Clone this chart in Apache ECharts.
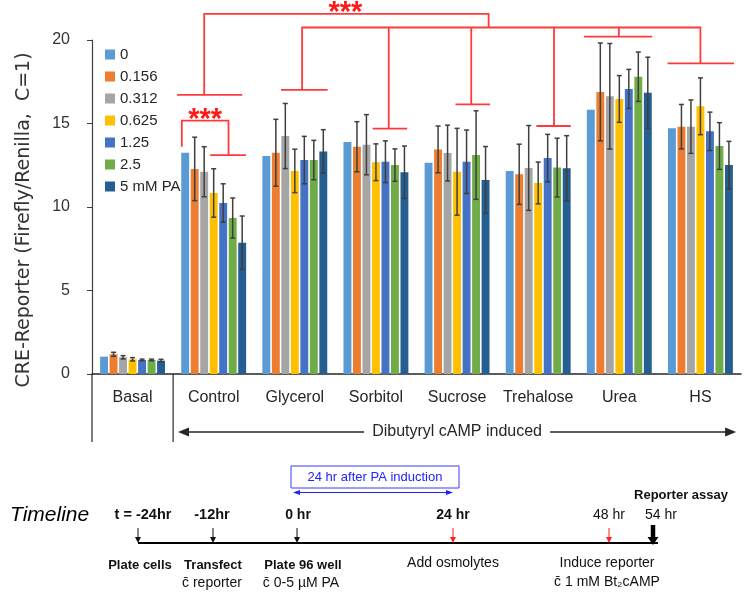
<!DOCTYPE html>
<html><head><meta charset="utf-8">
<script src="https://cdn.jsdelivr.net/npm/echarts@6/dist/echarts.min.js"></script>
<style>html,body{margin:0;padding:0;background:#fff;}#c{width:749px;height:596px;}</style>
</head><body><div id="c"></div>
<script>
// ---------- data ----------
const categories = ['Basal','Control','Glycerol','Sorbitol','Sucrose','Trehalose','Urea','HS'];
const seriesNames = ['0','0.156','0.312','0.625','1.25','2.5','5 mM PA'];
const yTicks = [0, 5, 10, 15, 20];
const pa0    = [1.04, 13.25, 13.05, 13.89, 12.65, 12.16, 15.83, 14.71];
const pa0156 = [1.18, 12.28, 13.25, 13.61, 13.45, 11.96, 16.89, 14.81];
const pa0312 = [1.00, 12.11, 14.25, 13.73, 13.23, 12.34, 16.63, 14.81];
const pa0625 = [0.88, 10.84, 12.16, 12.68, 12.11, 11.44, 16.47, 16.03];
const pa125  = [0.84, 10.24, 12.81, 12.71, 12.71, 12.93, 17.07, 14.53];
const pa25   = [0.84,  9.34, 12.81, 12.51, 13.11, 12.36, 17.80, 13.65];
const pa5    = [0.80,  7.86, 13.33, 12.08, 11.62, 12.32, 16.84, 12.51];
const err0156 = [0.12, 1.90, 2.00, 1.50, 1.40, 1.80, 2.93, 1.33];
const err0312 = [0.10, 1.50, 1.95, 1.80, 1.67, 2.54, 3.16, 1.60];
const err0625 = [0.10, 1.45, 1.30, 1.10, 2.60, 1.25, 1.40, 1.70];
const err125  = [0.05, 1.15, 1.42, 1.25, 1.90, 1.42, 1.17, 1.15];
const err25   = [0.05, 1.20, 1.18, 0.97, 2.65, 1.76, 1.48, 1.40];
const err5    = [0.08, 1.60, 1.30, 1.57, 2.00, 1.95, 2.13, 1.42];

// significance brackets: polylines in [category position, value]
const bracketLines = [
  [[0.883,16.71],[0.883,21.56],[4.389,21.56],[4.389,20.75]],
  [[0.549,16.71],[1.352,16.71]],
  [[2.09,17.01],[2.09,20.75],[7.0,20.75],[7.0,18.6]],
  [[1.83,17.01],[2.405,17.01]],
  [[3.158,20.75],[3.158,14.69]], [[2.96,14.69],[3.385,14.69]],
  [[4.175,20.75],[4.175,16.14]], [[3.98,16.14],[4.407,16.14]],
  [[5.195,20.75],[5.195,14.85]], [[4.978,14.85],[5.401,14.85]],
  [[5.994,20.75],[5.994,20.2]],  [[5.565,20.2],[6.405,20.2]],
  [[6.595,18.6],[7.414,18.6]],
  [[0.607,13.61],[0.607,15.17],[1.183,15.17],[1.183,13.11]],
  [[0.957,13.11],[1.398,13.11]]
];
const starLabels = [[2.623, 21.56], [0.895, 15.17]];

// ---------- chart ----------
const colors = ['#5B9BD5','#ED7D31','#A5A5A5','#FFC000','#4472C4','#70AD47','#255E91'];
const values = [pa0, pa0156, pa0312, pa0625, pa125, pa25, pa5];
const errors = [null, err0156, err0312, err0625, err125, err25, err5];
const NB = 7, CAT_GAP = 0.2, BAR_GAP = 0.2;
const FONT = 'Liberation Sans';

const series = seriesNames.map((n, k) => ({
  name: n, type: 'bar', data: values[k], itemStyle: { color: colors[k] },
  barCategoryGap: '20%', barGap: '20%', animation: false, z: 2
}));

const errData = [];
errors.forEach((arr, k) => { if (arr) arr.forEach((e, i) => errData.push([i, values[k][i], e, k])); });

series.push({
  type: 'custom', name: 'err', data: errData, encode: { x: 0, y: 1 }, z: 5, animation: false, silent: true,
  renderItem(params, api) {
    const i = api.value(0), v = api.value(1), e = api.value(2), k = api.value(3);
    const c = api.coord([i, v]);
    const bw = api.size([1, 0])[0];
    const gw = bw * (1 - CAT_GAP);
    const w = gw / (NB + (NB - 1) * BAR_GAP);
    const x = c[0] - gw / 2 + k * w * (1 + BAR_GAP) + w / 2;
    const yt = api.coord([i, v + e])[1], yb = api.coord([i, v - e])[1];
    const st = { stroke: '#3f3f3f', lineWidth: 1.5 };
    return { type: 'group', children: [
      { type: 'line', shape: { x1: x, y1: yt, x2: x, y2: yb }, style: st },
      { type: 'line', shape: { x1: x - 2.5, y1: yt, x2: x + 2.5, y2: yt }, style: st },
      { type: 'line', shape: { x1: x - 2.5, y1: yb, x2: x + 2.5, y2: yb }, style: st }
    ]};
  }
});

series.push({
  type: 'custom', name: 'annot', data: [[0, 0]], encode: { x: 0, y: 1 }, z: 6, clip: false, animation: false, silent: true,
  renderItem(params, api) {
    const c0 = api.coord([0, 0]);
    const cw = api.size([1, 0])[0];
    const X = p => c0[0] + p * cw;
    const Y = v => api.coord([0, v])[1];
    const red = '#ff3a3a';
    const ch = [];
    bracketLines.forEach(line => ch.push({ type: 'polyline',
      shape: { points: line.map(p => [X(p[0]), Y(p[1])]) },
      style: { stroke: red, lineWidth: 1.8, fill: null } }));
    starLabels.forEach(s => ch.push({ type: 'text', x: X(s[0]), y: Y(s[1]) - 0.5,
      style: { text: '***', fill: '#ff1a1a', font: 'bold 29px ' + FONT, align: 'center', verticalAlign: 'middle',
               textAlign: 'center', textVerticalAlign: 'middle' } }));
    // category separators & induced arrow
    const y0 = c0[1];
    const dk = '#262626';
    [-0.5, 0.5].forEach(p => ch.push({ type: 'line', shape: { x1: X(p), y1: y0, x2: X(p), y2: y0 + 68 },
      style: { stroke: dk, lineWidth: 1.2 } }));
    const ya = y0 + 58;
    const xl = X(0.56), xr = X(7.44), xm = X(4.0);
    ch.push({ type: 'line', shape: { x1: xl + 8, y1: ya, x2: xm - 93, y2: ya }, style: { stroke: dk, lineWidth: 1.5 } });
    ch.push({ type: 'line', shape: { x1: xm + 93, y1: ya, x2: xr - 8, y2: ya }, style: { stroke: dk, lineWidth: 1.5 } });
    ch.push({ type: 'polygon', shape: { points: [[xl, ya], [xl + 11, ya - 4.5], [xl + 11, ya + 4.5]] }, style: { fill: dk } });
    ch.push({ type: 'polygon', shape: { points: [[xr, ya], [xr - 11, ya - 4.5], [xr - 11, ya + 4.5]] }, style: { fill: dk } });
    ch.push({ type: 'text', x: xm, y: ya, style: { text: 'Dibutyryl cAMP induced', fill: dk, font: '16px ' + FONT,
      align: 'center', verticalAlign: 'middle', textAlign: 'center', textVerticalAlign: 'middle' } });
    return { type: 'group', children: ch };
  }
});

// ---------- timeline diagram ----------
function txt(x, y, s, opt) {
  opt = opt || {};
  return { type: 'text', x: x, y: y, silent: true,
    style: { text: s, fill: opt.fill || '#111', font: (opt.weight || 'normal') + ' ' + (opt.size || 14) + 'px ' + (opt.family || FONT),
      align: opt.align || 'center', verticalAlign: 'middle', textAlign: opt.align || 'center', textVerticalAlign: 'middle' } };
}
function downArrow(x, y1, y2, color, lw, hw, hh) {
  return [
    { type: 'line', silent: true, shape: { x1: x, y1: y1, x2: x, y2: y2 - hh + 1 }, style: { stroke: color, lineWidth: lw } },
    { type: 'polygon', silent: true, shape: { points: [[x - hw, y2 - hh], [x + hw, y2 - hh], [x, y2]] }, style: { fill: color } }
  ];
}
const blue = '#2222ff';
const graphic = [
  { type: 'text', x: 24, y: 220, rotation: Math.PI / 2, silent: true,
    style: { text: 'CRE-Reporter (Firefly/Renilla,  C=1)', fill: '#333', font: '19px DejaVu Sans',
      align: 'center', verticalAlign: 'middle', textAlign: 'center', textVerticalAlign: 'middle' } },
  { type: 'rect', silent: true, shape: { x: 291, y: 466, width: 168, height: 22 }, style: { stroke: '#3b3bff', fill: null, lineWidth: 1 } },
  txt(375, 477, '24 hr after PA induction', { fill: blue, size: 13 }),
  { type: 'line', silent: true, shape: { x1: 298, y1: 492.5, x2: 448, y2: 492.5 }, style: { stroke: blue, lineWidth: 1.2 } },
  { type: 'polygon', silent: true, shape: { points: [[293, 492.5], [300, 490], [300, 495]] }, style: { fill: blue } },
  { type: 'polygon', silent: true, shape: { points: [[453, 492.5], [446, 490], [446, 495]] }, style: { fill: blue } },
  txt(10, 515, 'Timeline', { size: 21, align: 'left', weight: 'italic', fill: '#000' }),
  { type: 'line', silent: true, shape: { x1: 138, y1: 543, x2: 658, y2: 543 }, style: { stroke: '#000', lineWidth: 2 } },
  ...downArrow(138, 528, 543, '#111', 1, 3, 6),
  ...downArrow(213, 528, 543, '#111', 1, 3, 6),
  ...downArrow(297, 528, 543, '#111', 1, 3, 6),
  ...downArrow(453, 528, 543, '#ff2020', 1, 3, 6),
  ...downArrow(609, 528, 543, '#ff2020', 1, 3, 6),
  ...downArrow(653, 525, 545, '#000', 4.5, 5.5, 8),
  txt(143, 515, 't = -24hr', { weight: 'bold', size: 14.5 }),
  txt(212, 515, '-12hr', { weight: 'bold', size: 14.5 }),
  txt(298, 515, '0 hr', { weight: 'bold', size: 14 }),
  txt(453, 515, '24 hr', { weight: 'bold', size: 14 }),
  txt(609, 515, '48 hr', { size: 14 }),
  txt(661, 515, '54 hr', { size: 14 }),
  txt(681, 495, 'Reporter assay', { weight: 'bold', size: 13 }),
  txt(140, 565, 'Plate cells', { weight: 'bold', size: 13 }),
  txt(213, 565, 'Transfect', { weight: 'bold', size: 13 }),
  txt(303, 565, 'Plate 96 well', { weight: 'bold', size: 13 }),
  txt(453, 563, 'Add osmolytes', { size: 14 }),
  txt(607, 563, 'Induce reporter', { size: 14 }),
  txt(212, 583, 'c\u0304 reporter', { size: 14 }),
  txt(301, 583, 'c\u0304 0-5 \u00b5M PA', { size: 14 }),
  txt(607, 582, 'c\u0304 1 mM Bt\u2082cAMP', { size: 14 })
];

const option = {
  animation: false,
  backgroundColor: '#fff',
  textStyle: { fontFamily: FONT },
  color: colors,
  grid: { left: 92, right: 8, top: 40, bottom: 222, containLabel: false },
  legend: {
    data: seriesNames, orient: 'vertical', left: 100, top: 42, itemWidth: 10, itemHeight: 10, itemGap: 7,
    icon: 'rect', selectedMode: false,
    textStyle: { fontSize: 15, color: '#262626', fontFamily: FONT }
  },
  xAxis: {
    type: 'category', data: categories,
    axisLine: { lineStyle: { color: '#262626', width: 1.5 } },
    axisTick: { show: false },
    axisLabel: { fontSize: 16, color: '#262626', margin: 16, fontFamily: FONT, interval: 0 }
  },
  yAxis: {
    type: 'value', min: yTicks[0], max: yTicks[yTicks.length - 1], interval: yTicks[1] - yTicks[0],
    axisLine: { show: true, lineStyle: { color: '#404040', width: 1.2 } },
    axisTick: { show: true, inside: false, length: 5, lineStyle: { color: '#404040' } },
    splitLine: { show: false },
    axisLabel: { fontSize: 16, color: '#333', margin: 22, fontFamily: FONT }
  },
  series: series,
  graphic: graphic
};
const chart = echarts.init(document.getElementById('c'));
chart.setOption(option);
</script>
</body></html>
